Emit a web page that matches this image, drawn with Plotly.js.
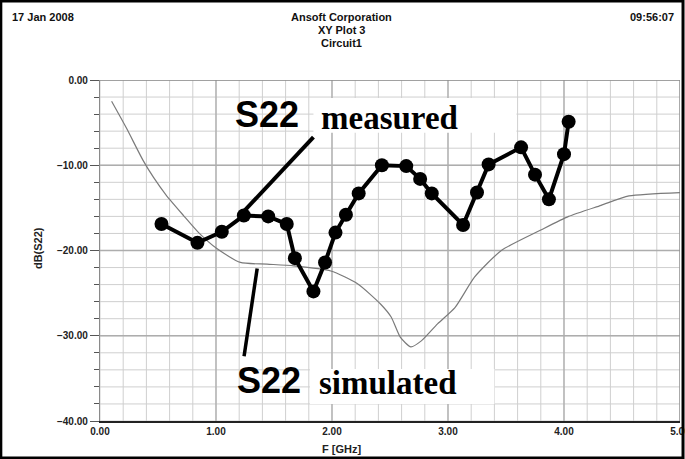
<!DOCTYPE html>
<html>
<head>
<meta charset="utf-8">
<script src="https://cdn.plot.ly/plotly-3.0.1.min.js"></script>
<style>
html,body{margin:0;padding:0;background:#fff;}
#chart{width:685px;height:459px;}
</style>
</head>
<body>
<div id="chart"></div>
<script>
// Measured S22 (dB) vs frequency (GHz)
const measuredF = [0.53,0.84,1.05,1.24,1.45,1.61,1.68,1.84,1.94,2.03,2.12,2.23,2.43,2.64,2.76,2.86,3.13,3.25,3.35,3.63,3.75,3.87,4.00,4.04];
const measuredDB = [-16.9,-19.1,-17.8,-15.9,-16.0,-16.9,-20.9,-24.8,-21.4,-17.9,-15.8,-13.3,-10.0,-10.1,-11.6,-13.3,-17.0,-13.2,-9.9,-7.9,-11.1,-14.0,-8.7,-4.9];
// Simulated S22 (dB) vs frequency (GHz)
const simulatedF = [0.10,0.23,0.37,0.46,0.57,0.72,0.85,1.01,1.21,1.44,1.67,1.99,2.22,2.42,2.51,2.59,2.68,2.77,2.91,3.06,3.23,3.46,3.80,4.04,4.32,4.56,5.00];
const simulatedDB = [-2.5,-5.7,-9.4,-11.4,-13.5,-15.9,-17.9,-19.8,-21.4,-21.6,-21.8,-22.4,-23.9,-26.3,-27.8,-30.2,-31.3,-30.6,-28.6,-26.7,-23.1,-20.0,-17.6,-16.0,-14.7,-13.6,-13.2];
// Axis ranges and grid steps
const xRange = [0,5];
const yRange = [-40,0];
const xMajorStep = 1, xMinorStep = 0.2;
const yMajorStep = 10, yMinorStep = 2;

const fam = 'Liberation Sans, Arial, sans-serif';

function steps(lo, hi, st){ const out=[]; const n=Math.round((hi-lo)/st); for(let i=0;i<=n;i++) out.push(+(lo+i*st).toFixed(6)); return out; }
function gridTrace(vals, isX, color, width){
  const xs=[], ys=[];
  vals.forEach(v=>{
    if(isX){ xs.push(v,v,null); ys.push(yRange[0],yRange[1],null); }
    else { xs.push(xRange[0],xRange[1],null); ys.push(v,v,null); }
  });
  return {x:xs, y:ys, type:'scatter', mode:'lines', line:{color:color, width:width}, hoverinfo:'skip', connectgaps:false, cliponaxis:false};
}

const traces = [
  gridTrace(steps(xRange[0],xRange[1],xMinorStep), true, '#cfcfcf', 1),
  gridTrace(steps(yRange[0],yRange[1],yMinorStep), false, '#cfcfcf', 1),
  gridTrace(steps(xRange[0],xRange[1],xMajorStep).slice(1,-1), true, '#adadad', 1.3),
  gridTrace(steps(yRange[0],yRange[1],yMajorStep).slice(1,-1), false, '#adadad', 1.3),
  {x:[xRange[0],xRange[1],xRange[1]], y:[yRange[1],yRange[1],yRange[0]], type:'scatter', mode:'lines',
   line:{color:'#8a8a8a', width:1.3}, hoverinfo:'skip', cliponaxis:false},
  {x:simulatedF, y:simulatedDB, type:'scatter', mode:'lines',
   line:{color:'#7a7a7a', width:1.2, shape:'spline', smoothing:0.6}, hoverinfo:'skip'},
  {x:measuredF, y:measuredDB, type:'scatter', mode:'lines+markers',
   line:{color:'#000', width:4}, marker:{color:'#000', size:14}, hoverinfo:'skip'}
];

const layout = {
  width:685, height:459,
  margin:{l:100, r:5, t:80, b:38},
  showlegend:false,
  xaxis:{range:xRange, dtick:xMajorStep, tickformat:'.2f',
    showgrid:false, zeroline:false,
    showline:true, linecolor:'#222', linewidth:2,
    ticks:'', tickfont:{family:fam, size:10, color:'#222', weight:'bold'}, ticklabeloverflow:'allow'},
  yaxis:{range:yRange, dtick:yMajorStep, tickformat:'.2f',
    showgrid:false, zeroline:false,
    showline:true, linecolor:'#8a8a8a', linewidth:1.3,
    ticks:'outside', ticklen:9, tickcolor:'#555', tickfont:{family:fam, size:10, color:'#222', weight:'bold'},
    minor:{dtick:yMinorStep, ticks:'outside', ticklen:5, tickcolor:'#555', showgrid:false}},
  shapes:[
    {type:'rect', xref:'x', yref:'y', x0:1.84, x1:3.59, y0:-2.1, y1:-6.2, fillcolor:'#fff', line:{width:0}, layer:'above'},
    {type:'rect', xref:'x', yref:'y', x0:1.81, x1:3.40, y0:-33.9, y1:-38.0, fillcolor:'#fff', line:{width:0}, layer:'above'},
    {type:'line', xref:'x', yref:'y', x0:1.84, y0:-6.7, x1:1.234, y1:-15.5, line:{color:'#000', width:4}},
    {type:'line', xref:'x', yref:'y', x0:1.355, y0:-22.1, x1:1.242, y1:-32.4, line:{color:'#000', width:3.5}},
    {type:'rect', xref:'paper', yref:'paper', x0:-0.171, x1:1.0052, y0:-0.1085, y1:1.2317, line:{color:'#000', width:3}}
  ],
  annotations:[
    {text:'<b>17 Jan 2008</b>', xref:'paper', yref:'paper', x:-0.155, y:1.185, xanchor:'left', yanchor:'middle', showarrow:false, font:{family:fam, size:11, color:'#111'}},
    {text:'<b>Ansoft Corporation</b>', xref:'paper', yref:'paper', x:0.417, y:1.185, xanchor:'center', yanchor:'middle', showarrow:false, font:{family:fam, size:11, color:'#111'}},
    {text:'<b>XY Plot 3</b>', xref:'paper', yref:'paper', x:0.417, y:1.147, xanchor:'center', yanchor:'middle', showarrow:false, font:{family:fam, size:11, color:'#111'}},
    {text:'<b>Circuit1</b>', xref:'paper', yref:'paper', x:0.417, y:1.108, xanchor:'center', yanchor:'middle', showarrow:false, font:{family:fam, size:11, color:'#111'}},
    {text:'<b>09:56:07</b>', xref:'paper', yref:'paper', x:0.993, y:1.185, xanchor:'right', yanchor:'middle', showarrow:false, font:{family:fam, size:11, color:'#111'}},
    {text:'<b>dB(S22)</b>', xref:'paper', yref:'paper', x:-0.107, y:0.507, xanchor:'center', yanchor:'middle', textangle:-90, showarrow:false, font:{family:fam, size:11, color:'#222'}},
    {text:'<b>F [GHz]</b>', xref:'paper', yref:'paper', x:0.417, y:-0.082, xanchor:'center', yanchor:'middle', showarrow:false, font:{family:fam, size:11, color:'#222'}},
    {text:'<b>S22</b>', xref:'x', yref:'y', x:1.147, y:-4.1, xanchor:'left', yanchor:'middle', showarrow:false, font:{family:fam, size:36, color:'#000'}},
    {text:'<b>measured</b>', xref:'x', yref:'y', x:1.89, y:-4.5, xanchor:'left', yanchor:'middle', showarrow:false, font:{family:'Liberation Serif, Times New Roman, serif', size:33, color:'#000'}},
    {text:'<b>S22</b>', xref:'x', yref:'y', x:1.165, y:-35.3, xanchor:'left', yanchor:'middle', showarrow:false, font:{family:fam, size:36, color:'#000'}},
    {text:'<b>simulated</b>', xref:'x', yref:'y', x:1.87, y:-35.6, xanchor:'left', yanchor:'middle', showarrow:false, font:{family:'Liberation Serif, Times New Roman, serif', size:33, color:'#000'}}
  ]
};

Plotly.newPlot('chart', traces, layout, {displayModeBar:false});
</script>
</body>
</html>
